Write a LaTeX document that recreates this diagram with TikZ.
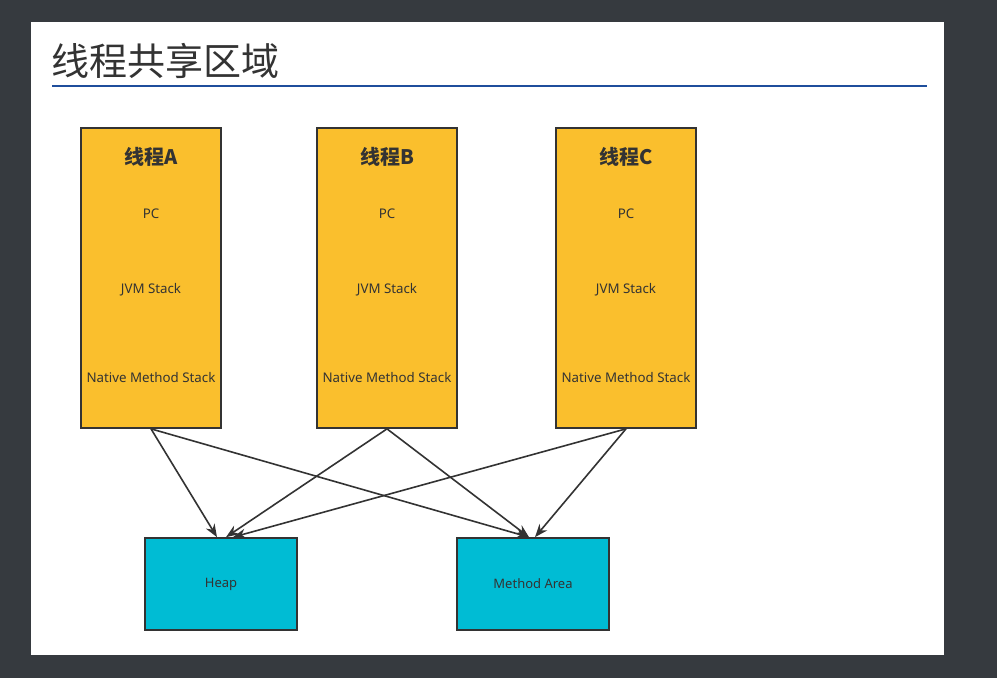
\documentclass[tikz,border=0pt]{standalone}
\usepackage{fontspec}
\setmainfont{Noto Sans}
\newfontfamily\cjk{Noto Sans CJK SC}
\usetikzlibrary{arrows.meta}
\definecolor{bgdark}{HTML}{363A3F}
\definecolor{titleblue}{HTML}{1F4E9C}
\definecolor{thrfill}{HTML}{FABF2D}
\definecolor{memfill}{HTML}{00BCD4}
\definecolor{ink}{HTML}{333333}
\tikzset{
  thread/.style={draw=ink, line width=1.7pt, fill=thrfill, minimum width=140pt, minimum height=300pt, inner sep=0pt},
  mem/.style={draw=ink, line width=1.7pt, fill=memfill, minimum width=152pt, minimum height=92pt, inner sep=0pt, font=\fontsize{13}{15}\selectfont, text=ink},
  lbl/.style={font=\fontsize{13.3}{15}\selectfont, text=ink, inner sep=0pt},
  hdr/.style={font=\cjk\bfseries\fontsize{20}{24}\selectfont, text=ink, inner sep=0pt},
  conn/.style={draw=ink, line width=1.6pt, -{Stealth[length=13pt,width=10pt]}}
}
\begin{document}
\begin{tikzpicture}[x=1pt,y=-1pt]
\fill[bgdark] (0,0) rectangle (997,678);
\useasboundingbox (0,0) rectangle (997,678);
\fill[white] (31,22) rectangle (944,655);
\node[anchor=base west, inner sep=0pt, font=\cjk\fontsize{38}{44}\selectfont, text=ink] (title) at (51,75) {线程共享区域};
\draw[titleblue, line width=1.8pt] (52,86) -- (927,86);
% threads
\foreach \n/\x/\t in {A/151/线程A, B/387/线程B, C/626/线程C}{
  \node[thread] (t\n) at (\x,278) {};
  \node[hdr] (h\n) at (\x,157) {\t};
  \node[lbl] (pc\n) at (\x,214) {PC};
  \node[lbl] (jvm\n) at (\x,290) {JVM Stack};
  \node[lbl] (nms\n) at (\x,378) {Native Method Stack};
}
\node[mem] (heap) at (221,584) {Heap};
\node[mem] (ma) at (533,584) {Method Area};
\coordinate (hA) at ([xshift=-4pt]heap.north);
\coordinate (hB) at ([xshift=5pt]heap.north);
\coordinate (hC) at ([xshift=12pt]heap.north);
\coordinate (mA) at ([xshift=-4pt]ma.north);
\coordinate (mB) at ([xshift=-4pt]ma.north);
\coordinate (mC) at ([xshift=2pt]ma.north);
\draw[conn] (tA.south) -- (hA);
\draw[conn] (tA.south) -- (mA);
\draw[conn] (tB.south) -- (hB);
\draw[conn] (tB.south) -- (mB);
\draw[conn] (tC.south) -- (hC);
\draw[conn] (tC.south) -- (mC);
\end{tikzpicture}
\end{document}
